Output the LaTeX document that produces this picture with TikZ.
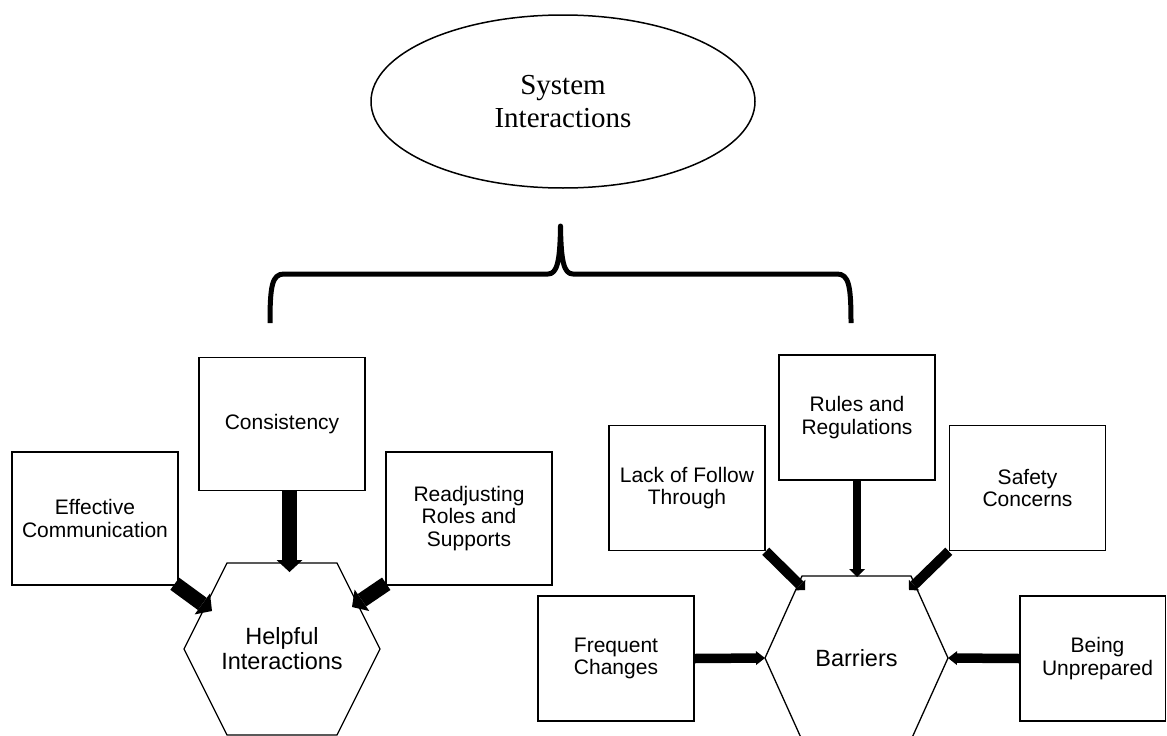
\documentclass[tikz,border=0pt]{standalone}
\usepackage{fontspec}
\setmainfont{Liberation Serif}
\newfontfamily\sansf{Liberation Sans}
\usetikzlibrary{arrows.meta,shapes.geometric,calc}

\begin{document}
\begin{tikzpicture}[x=1pt,y=-1pt,
  card/.style={draw,line width=1.5pt,align=center,inner sep=0pt,
    font=\sansf\fontsize{21}{22.5}\selectfont},
  bigcard/.style={card,minimum width=166pt,minimum height=133pt},
  smallcard/.style={card,minimum width=156pt,minimum height=125pt},
  hexlabel/.style={align=center,font=\sansf\fontsize{23.5}{25}\selectfont},
  hexline/.style={draw,line width=1.3pt,line join=miter},
  fatarrow/.style={line width=15pt,-{Triangle[width=26pt,length=12pt,line width=0pt]}},
  toparrow/.style={line width=8pt,-{Triangle[width=16pt,length=8pt,line width=0pt]}},
  slantarrow/.style={line width=10pt,-{Triangle[width=15pt,length=7pt,line width=0pt]}},
  sidearrow/.style={line width=9.5pt,-{Triangle[width=14pt,length=9pt,line width=0pt]}},
]
\useasboundingbox (0,0) rectangle (1167,736);
\clip (0,0) rectangle (1167,736);

% heading ellipse
\node[ellipse,draw,line width=1.5pt,minimum width=384pt,minimum height=173pt,
  inner sep=0pt,align=center,font=\fontsize{29}{33}\selectfont]
  (sys) at (563,101.5) {System\\Interactions};

% curly brace below the heading
\draw[line width=5pt,line join=round]
  (270,323) .. controls (270,286) and (272,274) .. (284,274) -- (548,274)
  .. controls (557,274) and (560,262) .. (560.5,226)
  .. controls (561,262) and (564,274) .. (573,274) -- (837,274)
  .. controls (849,274) and (851,286) .. (851,323);

% left group
\node[bigcard] (cons)  at (282,424)   {Consistency};
\node[bigcard] (eff)   at (95,518.5)  {Effective\\Communication};
\node[bigcard] (readj) at (469,518.5) {Readjusting\\Roles and\\Supports};

\node[hexlabel] (help) at (282,649) {Helpful\\Interactions};
\draw[hexline] ($(help.center)+(-98,0)$) -- ++(43,-86) -- ++(110,0)
  -- ++(43,86) -- ++(-43,86) -- ++(-110,0) -- cycle;

% right group
\node[smallcard] (rules)  at (857,417.5)  {Rules and\\Regulations};
\node[smallcard] (lack)   at (687,488)    {Lack of Follow\\Through};
\node[smallcard] (safety) at (1027.5,488) {Safety\\Concerns};
\node[smallcard] (freq)   at (616,658.5)  {Frequent\\Changes};
\node[smallcard,minimum width=145.5pt] (being) at (1092.75,658.5)
  {\hspace*{9.5pt}Being\\\hspace*{9.5pt}Unprepared};

\node[hexlabel] (barr) at (856.5,658) {Barriers};
\draw[hexline] ($(barr.center)+(-91.5,0)$) -- ++(37,-82) -- ++(109,0)
  -- ++(37,82) -- ++(-37,82) -- ++(-109,0) -- cycle;

% arrow end points on the hexagons
\coordinate (helpTL)  at (212,611);
\coordinate (helpTop) at (289.5,572);
\coordinate (helpTR)  at (352,607);
\coordinate (barrTL)  at (805,590);
\coordinate (barrTop) at (857,577);
\coordinate (barrTR)  at (909,590);
\coordinate (barrL)   at (765,658);
\coordinate (barrR)   at (948,658);

% arrows into Helpful Interactions
\draw[fatarrow] (cons.south -| helpTop) -- (helpTop);
\draw[fatarrow] ($(eff.south east)+(-4,-2)$) -- (helpTL);
\draw[fatarrow] ($(readj.south west)+(1,-2)$) -- (helpTR);

% arrows into Barriers
\draw[toparrow]   (rules.south) -- (barrTop);
\draw[slantarrow] (lack.south east) -- (barrTL);
\draw[slantarrow] (safety.south west) -- (barrTR);
\draw[sidearrow]  (freq.east) -- (barrL);
\draw[sidearrow]  (being.west) -- (barrR);
\end{tikzpicture}
\end{document}
